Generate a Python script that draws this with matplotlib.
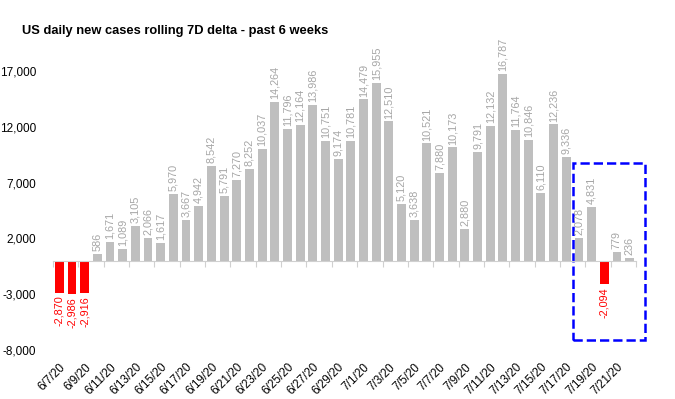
import matplotlib
matplotlib.use("Agg")
import matplotlib.pyplot as plt
from matplotlib.patches import Rectangle
import numpy as np

# daily change in 7-day rolling new cases, 6/7/20 - 7/22/20
dates = ['6/7/20', '6/8/20', '6/9/20', '6/10/20', '6/11/20', '6/12/20', '6/13/20', '6/14/20',
         '6/15/20', '6/16/20', '6/17/20', '6/18/20', '6/19/20', '6/20/20', '6/21/20', '6/22/20',
         '6/23/20', '6/24/20', '6/25/20', '6/26/20', '6/27/20', '6/28/20', '6/29/20', '6/30/20',
         '7/1/20', '7/2/20', '7/3/20', '7/4/20', '7/5/20', '7/6/20', '7/7/20', '7/8/20',
         '7/9/20', '7/10/20', '7/11/20', '7/12/20', '7/13/20', '7/14/20', '7/15/20', '7/16/20',
         '7/17/20', '7/18/20', '7/19/20', '7/20/20', '7/21/20', '7/22/20']
delta = [-2870, -2986, -2916, 586, 1671, 1089, 3105, 2066, 1617, 5970, 3667, 4942,
         8542, 5791, 7270, 8252, 10037, 14264, 11796, 12164, 13986, 10751, 9174, 10781,
         14479, 15955, 12510, 5120, 3638, 10521, 7880, 10173, 2880, 9791, 12132, 16787,
         11764, 10846, 6110, 12236, 9336, 2078, 4831, -2094, 779, 236]
ytick_vals = [-8000, -3000, 2000, 7000, 12000, 17000]
# highlighted last days (box from between 7/17 and 7/18 to past the end)
box_x = [40.5, 46.2]
box_y = [-7140, 8800]

plt.rcParams['font.family'] = ['Liberation Sans', 'DejaVu Sans']

fig = plt.figure(figsize=(6.75, 3.99), dpi=100)
ax = fig.add_axes([0.0785, 0.1228, 0.8637, 0.7825])

x = np.arange(len(delta))
cols = ['#FF0000' if v < 0 else '#BFBFBF' for v in delta]
ax.bar(x, delta, width=0.7, color=cols)

for i, v in enumerate(delta):
    lbl = '{:,}'.format(v)
    if v < 0:
        ax.annotate(lbl, (i, v), xytext=(0, -2), textcoords='offset points',
                    rotation=90, ha='center', va='top', fontsize=7.8, color='#FF0000')
    else:
        ax.annotate(lbl, (i, v), xytext=(0, 2), textcoords='offset points',
                    rotation=90, ha='center', va='bottom', fontsize=7.8, color='#A6A6A6')

ax.set_xlim(-0.5, 45.5)
ax.set_ylim(-8000, 20000)

for s in ['top', 'right', 'left']:
    ax.spines[s].set_visible(False)
ax.spines['bottom'].set_position(('data', 0))
ax.spines['bottom'].set_color('#D0D0D0')
ax.set_xticks(np.arange(-0.5, 46, 2))
ax.set_xticklabels([])
ax.tick_params(axis='x', length=4, color='#D0D0D0')

ax.set_yticks(ytick_vals)
ax.set_yticklabels(['{:,}'.format(v) for v in ytick_vals])
ax.tick_params(axis='y', length=0, labelsize=8.5, pad=12)

sec = ax.secondary_xaxis('bottom')
sec.spines['bottom'].set_visible(False)
sec.set_xticks(x[::2])
sec.set_xticklabels(dates[::2], rotation=45, ha='right', rotation_mode='anchor', fontsize=8.5)
sec.tick_params(length=0, pad=8)

box = Rectangle((box_x[0], box_y[0]), box_x[1] - box_x[0], box_y[1] - box_y[0],
                fill=False, edgecolor='#0000FF', linestyle='--', linewidth=1.8, clip_on=False)
ax.add_patch(box)

fig.text(22 / 675, 1 - 31 / 399, 'US daily new cases rolling 7D delta - past 6 weeks',
         fontsize=9.3, fontweight='bold', va='center', ha='left')

fig.savefig('out.png', dpi=100)
